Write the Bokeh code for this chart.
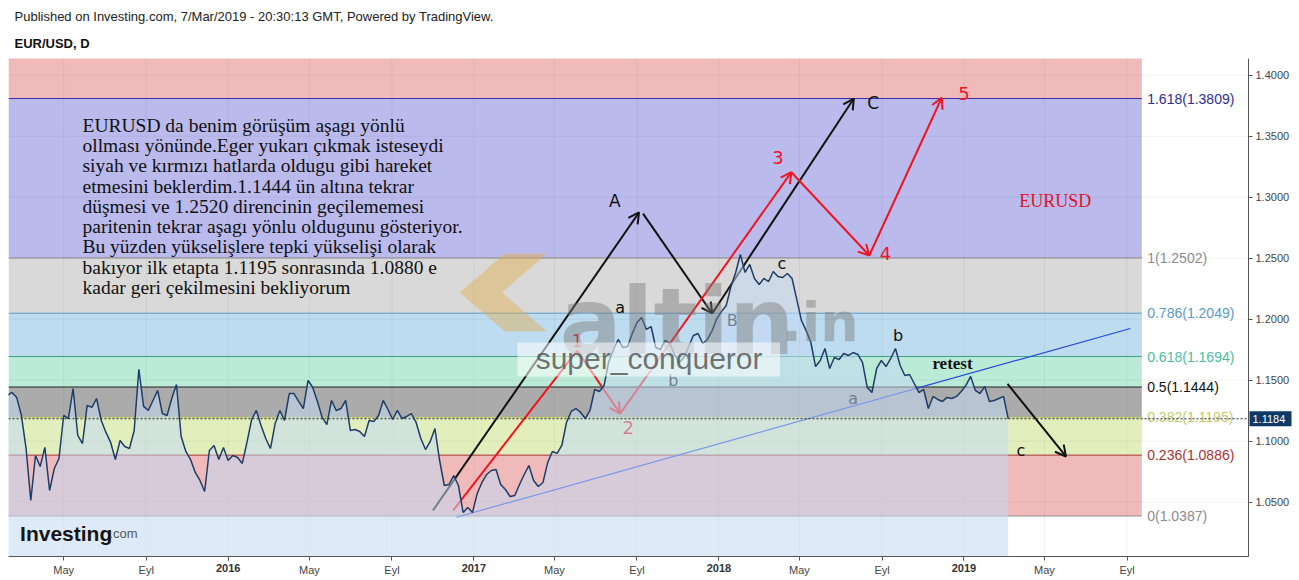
import numpy as np
import pandas as pd
from bokeh.plotting import figure
from bokeh.models import Range1d, FixedTicker, NumeralTickFormatter, Title, DatetimeAxis
from bokeh.core.properties import value
from bokeh.embed import file_html
from bokeh.resources import INLINE

# ---------------- data ----------------
week_start = "2015-02-06"
eurusd_weekly = [
    1.1375, 1.1400, 1.1359, 1.1211, 1.0940, 1.0514, 1.0883, 1.0793, 1.0949, 1.0596,
    1.0776, 1.0858, 1.1211, 1.1186, 1.1432, 1.1047, 1.0981, 1.1293, 1.1277, 1.1350,
    1.1170, 1.1072, 1.0990, 1.0850, 1.1006, 1.0957, 1.0940, 1.1088, 1.1590, 1.1285,
    1.1252, 1.1334, 1.1416, 1.1227, 1.1211, 1.1350, 1.1465, 1.1039, 1.0916, 1.0850,
    1.0744, 1.0678, 1.0588, 1.0924, 1.0965, 1.0850, 1.0949, 1.0842, 1.0883, 1.0867,
    1.0818, 1.0990, 1.1178, 1.1252, 1.1129, 1.1022, 1.0940, 1.1145, 1.1252, 1.1170,
    1.1391, 1.1391, 1.1326, 1.1268, 1.1498, 1.1440, 1.1326, 1.1195, 1.1137, 1.1334,
    1.1252, 1.1268, 1.1334, 1.1088, 1.1096, 1.1080, 1.1039, 1.1170, 1.1162, 1.1211,
    1.1334, 1.1260, 1.1178, 1.1252, 1.1186, 1.1203, 1.1227, 1.1154, 1.1022, 1.0932,
    1.0998, 1.1104, 1.0842, 1.0637, 1.0645, 1.0719, 1.0637, 1.0416, 1.0457, 1.0416,
    1.0572, 1.0662, 1.0727, 1.0760, 1.0768, 1.0645, 1.0604, 1.0547, 1.0555, 1.0645,
    1.0727, 1.0801, 1.0678, 1.0629, 1.0662, 1.0826, 1.0916, 1.0900, 1.0965, 1.1154,
    1.1244, 1.1268, 1.1236, 1.1186, 1.1252, 1.1424, 1.1408, 1.1457, 1.1654, 1.1752,
    1.1834, 1.1768, 1.1776, 1.1883, 1.1973, 1.2014, 1.1916, 1.1940, 1.1768, 1.1752,
    1.1826, 1.1801, 1.1711, 1.1645, 1.1686, 1.1776, 1.1867, 1.1883, 1.1801, 1.1834,
    1.1907, 1.2006, 1.2064, 1.2113, 1.2268, 1.2383, 1.2530, 1.2383, 1.2449, 1.2334,
    1.2284, 1.2334, 1.2309, 1.2391, 1.2350, 1.2342, 1.2375, 1.2334, 1.2162, 1.1989,
    1.1907, 1.1809, 1.1612, 1.1662, 1.1760, 1.1596, 1.1686, 1.1670, 1.1719, 1.1703,
    1.1727, 1.1711, 1.1645, 1.1440, 1.1399, 1.1596, 1.1662, 1.1612, 1.1678, 1.1760,
    1.1621, 1.1539, 1.1547, 1.1473, 1.1399, 1.1424, 1.1268, 1.1367, 1.1342, 1.1326,
    1.1359, 1.1350, 1.1367, 1.1408, 1.1457, 1.1531, 1.1416, 1.1391, 1.1449, 1.1326,
    1.1334, 1.1350, 1.1367, 1.1184,
]
last_price = 1.1184

fib_ratios = ["0", "0.236", "0.382", "0.5", "0.618", "0.786", "1", "1.618"]
fib_prices = [1.0387, 1.0886, 1.1195, 1.1444, 1.1694, 1.2049, 1.2502, 1.3809]
fib_top = 1.5922
band_colors = ["#f0baba", "#e2efbd", "#ababab", "#bbebd7", "#bedcf0", "#d9d9d9", "#babaed", "#f0baba"]
line_colors = ["#909090", "#a83232", "#c2cc66", "#222222", "#3aa088", "#5b9bc8", "#8a8a8a", "#3a2fa8"]
label_colors = ["#8c8c8c", "#a83232", "#c2cb72", "#111111", "#4cbca0", "#5b9bc8", "#8c8c8c", "#2d2d8f"]

y_ticks = [1.05, 1.10, 1.15, 1.20, 1.25, 1.30, 1.35, 1.40]
x_tick_dates = ["2015-05-01", "2015-09-01", "2016-01-01", "2016-05-01", "2016-09-01",
                "2017-01-01", "2017-05-01", "2017-09-01", "2018-01-01", "2018-05-01",
                "2018-09-01", "2019-01-01", "2019-05-01", "2019-09-01"]
x_tick_labels = ["May", "Eyl", "2016", "May", "Eyl", "2017", "May", "Eyl",
                 "2018", "May", "Eyl", "2019", "May", "Eyl"]

# analyst drawings: (start date, start price, end date, end price, arrow head)
black_arrows = [
    ("2016-11-01", 1.0432, "2017-09-04", 1.2875, True),
    ("2017-09-10", 1.2866, "2017-12-22", 1.2047, True),
    ("2017-12-22", 1.2047, "2018-07-21", 1.3809, True),
    ("2019-03-07", 1.1470, "2019-06-02", 1.0875, True),
]
red_arrows = [
    ("2016-12-01", 1.0432, "2017-06-04", 1.1743, False),
    ("2017-06-04", 1.1743, "2017-08-07", 1.1227, True),
    ("2017-08-07", 1.1227, "2018-04-19", 1.3205, True),
    ("2018-04-19", 1.3205, "2018-08-13", 1.2522, True),
    ("2018-08-13", 1.2522, "2018-11-29", 1.3815, True),
]
trend_line = ("2016-12-06", 1.0377, "2019-09-06", 1.1924)

wave_dates = ["2017-07-30", "2018-08-19", "2017-08-07", "2017-10-25", "2018-01-21",
              "2018-04-05", "2018-07-20", "2018-09-25", "2019-03-27"]
wave_prices = [1.2973, 1.3776, 1.2096, 1.1498, 1.1989, 1.2456, 1.1350, 1.1866, 1.0924]
wave_texts = ["A", "C", "a", "b", "B", "c", "a", "b", "c"]
wave_sizes = ["17px", "17px", "16px", "16px", "16px", "16px", "16px", "16px", "16px"]

num_dates = ["2017-06-04", "2017-08-19", "2018-03-30", "2018-09-06", "2019-01-01"]
num_prices = [1.1825, 1.1113, 1.3325, 1.2539, 1.3850]
num_texts = ["1", "2", "3", "4", "5"]

comment_lines = [
    "EURUSD da benim görüşüm aşagı yönlü",
    "ollması yönünde.Eger yukarı çıkmak isteseydi",
    "siyah ve kırmızı hatlarda oldugu gibi hareket",
    "etmesini beklerdim.1.1444 ün altına tekrar",
    "düşmesi ve 1.2520 direncinin geçilememesi",
    "paritenin tekrar aşagı yönlu oldugunu gösteriyor.",
    "Bu yüzden yükselişlere tepki yükselişi olarak",
    "bakıyor ilk etapta 1.1195 sonrasında 1.0880 e",
    "kadar geri çekilmesini bekliyorum",
]

# ---------------- helpers ----------------
def ms(s):
    return pd.Timestamp(s).value / 1e6

# price pane: X0..XA horizontally, Y0..YT vertically (1240 x 498 px)
X0, XA = ms("2015-02-07 19:12"), ms("2020-02-28 21:36")
Y0, YT = 1.0055, 1.4137
PX_X = 1240 / (XA - X0)
PX_Y = 498 / (YT - Y0)
FIG_W, FIG_H = 1298, 579
TOP, LEFT = 58, 8
FRAME_W, FRAME_H = FIG_W - LEFT, FIG_H - TOP
X_END = X0 + FRAME_W / PX_X
Y_BOT = YT - FRAME_H / PX_Y

dates = pd.date_range(week_start, periods=len(eurusd_weekly), freq="W-FRI")
xs = [d.value / 1e6 for d in dates]

p = figure(width=FIG_W, height=FIG_H, x_axis_type="datetime", y_axis_location="right",
           x_range=Range1d(X0, X_END), y_range=Range1d(Y_BOT, YT),
           output_backend="svg", toolbar_location=None, title=None,
           min_border_left=LEFT, min_border_right=0, min_border_top=TOP, min_border_bottom=0,
           background_fill_color="white", border_fill_color="white")
p.outline_line_color = None
p.grid.visible = False

# fib bands
band_right = ms("2019-09-23")
label_x = ms("2019-10-01")
n = len(fib_prices)
p.quad(left=[X0] * n, right=[band_right] * n, bottom=fib_prices, top=fib_prices[1:] + [fib_top],
       fill_color=band_colors, line_color=None)
p.segment(x0=[X0] * n, x1=[band_right] * n, y0=fib_prices, y1=fib_prices,
          line_color=line_colors, line_width=1)

# faint grid
xt = [ms(d) for d in x_tick_dates]
p.segment(x0=xt, x1=xt, y0=[Y0] * len(xt), y1=[YT] * len(xt), line_color="#000000", line_alpha=0.05)
p.segment(x0=[X0] * len(y_ticks), x1=[XA] * len(y_ticks), y0=y_ticks, y1=y_ticks,
          line_color="#000000", line_alpha=0.05)

# drawings (under the price area, as in TradingView)
def head(x0, y0, x1, y1, size=12, ang=np.radians(28)):
    dx = (x0 - x1) * PX_X
    dy = (y0 - y1) * PX_Y
    L = np.hypot(dx, dy)
    ux, uy = dx / L, dy / L
    out = []
    for a in (ang, -ang):
        rx = ux * np.cos(a) - uy * np.sin(a)
        ry = ux * np.sin(a) + uy * np.cos(a)
        out.append((x1 + rx * size / PX_X, y1 + ry * size / PX_Y))
    return out

tx0, ty0, tx1, ty1 = trend_line
p.line([ms(tx0), ms(tx1)], [ty0, ty1], line_color="#2447d8", line_width=1.2)

for arrows, col in ((black_arrows, "#111111"), (red_arrows, "#f0141e")):
    for d0, v0, d1, v1, has_head in arrows:
        a0, a1 = ms(d0), ms(d1)
        p.line([a0, a1], [v0, v1], line_color=col, line_width=2)
        if has_head:
            (w1x, w1y), (w2x, w2y) = head(a0, v0, a1, v1)
            p.line([w1x, a1, w2x], [w1y, v1, w2y], line_color=col, line_width=2)

p.text(x=[ms(d) for d in wave_dates], y=wave_prices, text=wave_texts,
       text_font=value("DejaVu Sans"), text_font_size=wave_sizes, text_color="#111111",
       text_align="center", text_baseline="middle")
p.text(x=[ms(d) for d in num_dates], y=num_prices, text=num_texts,
       text_font=value("DejaVu Sans"), text_font_size="18px", text_color="#ee1428",
       text_align="center", text_baseline="middle")
p.text(x=[ms("2018-12-15")], y=[1.1637], text=["retest"],
       text_font=value("Liberation Serif"), text_font_size="17px", text_font_style="bold",
       text_color="#111111", text_align="center", text_baseline="middle")
p.text(x=[ms("2019-05-17")], y=[1.2973], text=["EURUSD"],
       text_font=value("Liberation Serif"), text_font_size="18px",
       text_color="#e0141e", text_align="center", text_baseline="middle")
p.text(x=[ms("2015-05-29")], y=[1.3675], text=["\n".join(comment_lines)],
       text_font=value("Liberation Serif"), text_font_size="19.5px", text_color="#111111",
       text_align="left", text_baseline="top", text_line_height=0.965)

# price area + line
p.varea(x=xs, y1=[Y0] * len(xs), y2=eurusd_weekly, fill_color="#c3d8f3", fill_alpha=0.55)
p.line(xs, eurusd_weekly, line_color="#1f3d66", line_width=1.5)

# watermarks
chev_x = [ms(d) for d in ["2016-12-11", "2017-02-16", "2017-04-20", "2017-02-12", "2017-04-20", "2017-02-16"]]
chev_y = [1.2219, 1.2539, 1.2539, 1.2219, 1.1899, 1.1899]
p.patch(chev_x, chev_y, fill_color="#e3ad4e", fill_alpha=0.45, line_color=None)
p.text(x=[ms("2017-05-09")], y=[1.1973], text=["altin"], text_font=value("DejaVu Sans"),
       text_font_size="92px", text_font_style="bold", text_color="#7a7a7a", text_alpha=0.45,
       text_align="left", text_baseline="alphabetic")
p.text(x=[ms("2018-04-04")], y=[1.1973], text=[".in"], text_font=value("DejaVu Sans"),
       text_font_size="54px", text_font_style="bold", text_color="#7a7a7a", text_alpha=0.45,
       text_align="left", text_baseline="alphabetic")
p.quad(left=[ms("2017-03-07")], right=[ms("2018-04-02")], bottom=[1.1531], top=[1.1809],
       fill_color="white", fill_alpha=0.55, line_color=None)
p.text(x=[ms("2017-09-19")], y=[1.1676], text=["super_conqueror"],
       text_font=value("Liberation Sans"), text_font_size="30px", text_color="#505050",
       text_alpha=0.8, text_align="center", text_baseline="middle")
p.text(x=[ms("2015-02-25")], y=[1.0240], text=["Investing"], text_font=value("Liberation Sans"),
       text_font_size="21px", text_font_style="bold", text_color="#151515",
       text_align="left", text_baseline="alphabetic")
p.text(x=[ms("2015-07-08")], y=[1.0240], text=[".com"], text_font=value("Liberation Sans"),
       text_font_size="13px", text_color="#555555", text_align="left", text_baseline="alphabetic")

# fib labels
p.text(x=[label_x] * n, y=fib_prices,
       text=[f"{r}({v:.4f})" for r, v in zip(fib_ratios, fib_prices)],
       text_font=value("Liberation Sans"), text_font_size="14px", text_color=label_colors,
       text_align="left", text_baseline="middle")

# last price dotted line + tag on the price scale
p.segment(x0=[X0], x1=[XA], y0=[last_price], y1=[last_price], line_color="#222222",
          line_dash="2 2", line_width=1)
p.quad(left=[XA + 1 / PX_X], right=[XA + 43 / PX_X],
       bottom=[last_price - 7.5 / PX_Y], top=[last_price + 7.5 / PX_Y],
       fill_color="#0f3a68", line_color=None)
p.text(x=[XA + 4 / PX_X], y=[last_price], text=[f"{last_price:.4f}"],
       text_font=value("Liberation Sans"), text_font_size="11px", text_color="white",
       text_align="left", text_baseline="middle")

# axes (pinned to the pane edges)
p.yaxis.ticker = FixedTicker(ticks=y_ticks)
p.yaxis.formatter = NumeralTickFormatter(format="0.0000")
p.yaxis.fixed_location = XA
p.yaxis.bounds = (Y0, YT)
p.xaxis.ticker = FixedTicker(ticks=xt)
p.xaxis.major_label_overrides = {t: (lab if not lab.isdigit() else "")
                                 for t, lab in zip(xt, x_tick_labels)}
p.xaxis.fixed_location = Y0
p.xaxis.bounds = (X0, XA)

year_ticks = [t for t, lab in zip(xt, x_tick_labels) if lab.isdigit()]
year_axis = DatetimeAxis(ticker=FixedTicker(ticks=year_ticks), fixed_location=Y0, bounds=(X0, XA),
                         major_label_overrides={t: lab for t, lab in zip(xt, x_tick_labels) if lab.isdigit()})
p.add_layout(year_axis, "below")

for ax in (p.xaxis[0], p.yaxis[0], year_axis):
    ax.major_label_text_font = "Liberation Sans"
    ax.major_label_text_font_size = "11px"
    ax.major_label_text_color = "#444444"
    ax.axis_line_color = "#555555"
    ax.major_tick_line_color = "#555555"
    ax.major_tick_out = 4
    ax.major_tick_in = 0
    ax.minor_tick_line_color = None
    ax.major_label_standoff = 3
year_axis.major_label_text_font_style = "bold"
year_axis.major_label_text_color = "#333333"

p.add_layout(Title(text="EUR/USD, D", text_font="Liberation Sans", text_font_size="13px",
                   text_font_style="bold", text_color="#111111", align="left", offset=6,
                   standoff=16), "above")
p.add_layout(Title(text="Published on Investing.com, 7/Mar/2019 - 20:30:13 GMT, Powered by TradingView.",
                   text_font="Liberation Sans", text_font_size="13px", text_font_style="normal",
                   text_color="#222222", align="left", offset=6, standoff=4), "above")

open("out.html", "w").write(file_html(p, INLINE))
